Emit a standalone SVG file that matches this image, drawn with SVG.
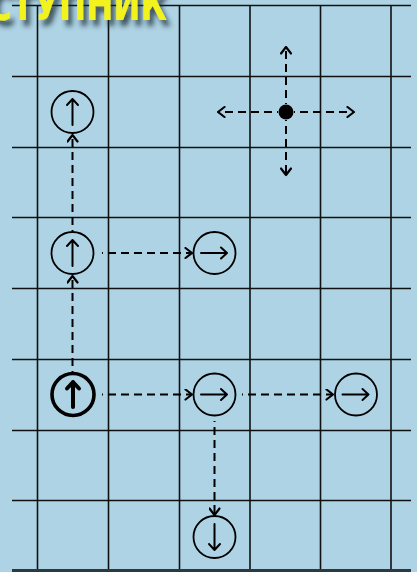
<svg xmlns="http://www.w3.org/2000/svg" width="417" height="572" viewBox="0 0 417 572">
<defs>
<style>
.grid{stroke:#111;stroke-width:1.6;fill:none}
.node{fill:none;stroke:#000;stroke-width:1.8}
.bold{fill:none;stroke:#000;stroke-width:3.6}
.inner{stroke:#000;stroke-width:2;fill:none;stroke-linecap:round;stroke-linejoin:round}
.innerb{stroke:#000;stroke-width:4;fill:none;stroke-linecap:round;stroke-linejoin:round}
.conn{stroke:#000;stroke-width:2;fill:none;stroke-dasharray:1 5 8 5 8 5 8 5 8 5 8 5 8 5 8 5 8 5 8 5 8 5;marker-end:url(#chev)}
.title{font-family:"DejaVu Sans",sans-serif;font-weight:600;font-size:44px}
</style>
<marker id="chev" viewBox="0 0 12 12" refX="10.5" refY="6" markerWidth="12" markerHeight="12" markerUnits="userSpaceOnUse" orient="auto">
<path d="M4,1 L10.5,6 L4,11" fill="none" stroke="#000" stroke-width="2.2" stroke-linecap="round" stroke-linejoin="round"/>
</marker>
<filter id="shadow" x="-20%" y="-60%" width="140%" height="220%">
<feGaussianBlur in="SourceAlpha" stdDeviation="2.5"/>
<feOffset dx="4" dy="6" result="b"/>
<feFlood flood-color="#1a2a30" flood-opacity="0.75"/>
<feComposite in2="b" operator="in"/>
<feMerge><feMergeNode/><feMergeNode in="SourceGraphic"/></feMerge>
</filter>
</defs>
<rect width="417" height="572" fill="#add3e4"/>
<g id="grid">
<line class="grid" x1="12" y1="5.5" x2="411" y2="5.5"/>
<line class="grid" x1="12" y1="76.5" x2="411" y2="76.5"/>
<line class="grid" x1="12" y1="147.5" x2="411" y2="147.5"/>
<line class="grid" x1="12" y1="217.5" x2="411" y2="217.5"/>
<line class="grid" x1="12" y1="288.5" x2="411" y2="288.5"/>
<line class="grid" x1="12" y1="359.5" x2="411" y2="359.5"/>
<line class="grid" x1="12" y1="430.5" x2="411" y2="430.5"/>
<line class="grid" x1="12" y1="500.5" x2="411" y2="500.5"/>
<line class="grid" x1="37.5" y1="5" x2="37.5" y2="570"/>
<line class="grid" x1="108.5" y1="5" x2="108.5" y2="570"/>
<line class="grid" x1="179.5" y1="5" x2="179.5" y2="570"/>
<line class="grid" x1="250" y1="5" x2="250" y2="570"/>
<line class="grid" x1="320.5" y1="5" x2="320.5" y2="570"/>
<line class="grid" x1="391" y1="5" x2="391" y2="570"/>
<line x1="12" y1="570.5" x2="411" y2="570.5" stroke="#2c3a40" stroke-width="3"/>
</g>
<g id="title">
<text class="title" x="-12" y="20" fill="#f2f21e" filter="url(#shadow)" textLength="179" lengthAdjust="spacingAndGlyphs">СТУПНИК</text>
</g>
<g id="connectors">
<line class="conn" x1="72.5" y1="372" x2="72.5" y2="276"/>
<line class="conn" x1="72.5" y1="231" x2="72.5" y2="135"/>
<line class="conn" x1="102" y1="253" x2="192" y2="253"/>
<line class="conn" x1="102" y1="394.5" x2="192" y2="394.5"/>
<line class="conn" x1="242" y1="394.5" x2="333" y2="394.5"/>
<line class="conn" x1="214.5" y1="421" x2="214.5" y2="515"/>
<line class="conn" x1="278" y1="112" x2="218" y2="112"/>
<line class="conn" x1="294" y1="112" x2="354" y2="112"/>
<line class="conn" x1="286" y1="104" x2="286" y2="47"/>
<line class="conn" x1="286" y1="120" x2="286" y2="175"/>
</g>
<g id="node-a">
<circle class="node" cx="72.5" cy="112" r="21"/>
<path class="inner" d="M72.5,125 V99 M67,105 L72.5,99 L78,105"/>
</g>
<g id="node-b">
<circle class="node" cx="72.5" cy="253" r="21"/>
<path class="inner" d="M72.5,266 V240 M67,246 L72.5,240 L78,246"/>
</g>
<g id="node-c">
<circle class="node" cx="214.5" cy="253" r="21"/>
<path class="inner" d="M201,253 H227 M221,247.5 L227,253 L221,258.5"/>
</g>
<g id="node-d">
<circle class="bold" cx="73" cy="394.5" r="21"/>
<path class="innerb" d="M73,407 V382 M67,388.5 L73,382 L79,388.5"/>
</g>
<g id="node-e">
<circle class="node" cx="214.5" cy="394.5" r="21"/>
<path class="inner" d="M201,394.5 H227 M221,389 L227,394.5 L221,400"/>
</g>
<g id="node-f">
<circle class="node" cx="356" cy="394.5" r="21"/>
<path class="inner" d="M342.5,394.5 H368.5 M362.5,389 L368.5,394.5 L362.5,400"/>
</g>
<g id="node-g">
<circle class="node" cx="214.5" cy="537" r="21"/>
<path class="inner" d="M214.5,524 V550 M209,544 L214.5,550 L220,544"/>
</g>
<g id="node-dot">
<circle cx="286" cy="112" r="7.5" fill="#000"/>
</g>
</svg>
